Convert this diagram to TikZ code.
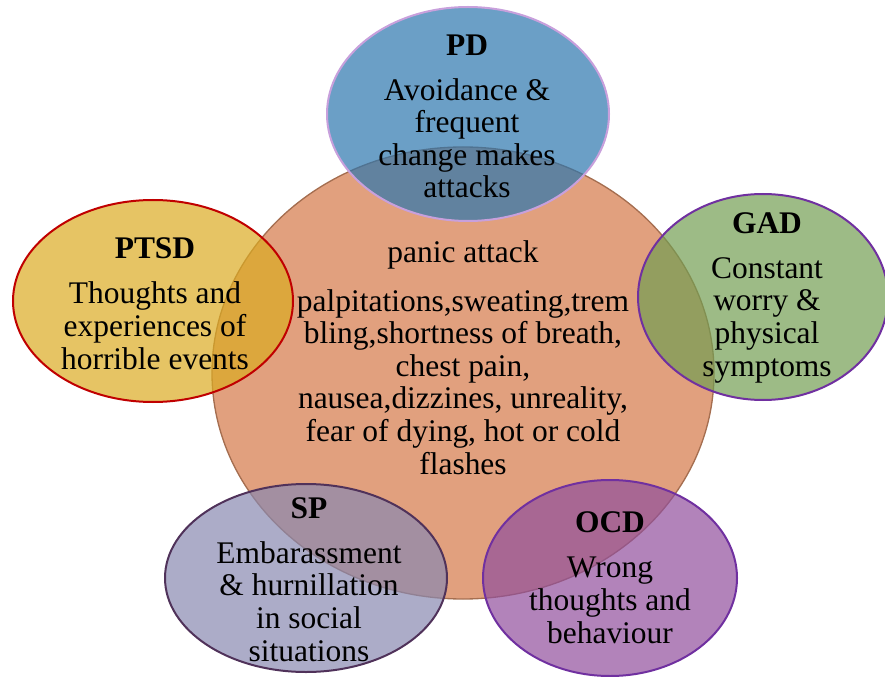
\documentclass[tikz,border=0pt]{standalone}
\usepackage{fontspec}
\setmainfont{Liberation Serif}
\usepackage{tikz}
\usetikzlibrary{shapes.geometric}
\definecolor{panicfill}{RGB}{225,160,126}
\definecolor{panicline}{RGB}{165,110,80}
\definecolor{pdfill}{RGB}{44,118,174}
\definecolor{pdline}{RGB}{200,160,220}
\definecolor{gadfill}{RGB}{115,158,82}
\definecolor{gadline}{RGB}{112,48,160}
\definecolor{ptsdfill}{RGB}{219,171,34}
\definecolor{ptsdline}{RGB}{192,0,0}
\definecolor{spfill}{RGB}{137,137,176}
\definecolor{spline}{RGB}{80,50,90}
\definecolor{ocdfill}{RGB}{145,79,156}
\definecolor{ocdline}{RGB}{112,48,160}

\begin{document}
\begin{tikzpicture}[x=0.75pt,y=-0.75pt,
	bubble/.style={ellipse,draw,line width=1.5pt,inner sep=0pt,fill opacity=0.7},
	blurb/.style={align=center,inner sep=0pt,anchor=base,font=\fontsize{23.6}{24.4}\selectfont}]
	\useasboundingbox (0,0) rectangle (885,677);
	\node[bubble,fill=panicfill,draw=panicline,fill opacity=1,line width=1pt,minimum width=376.5pt,minimum height=339pt] (panic) at (463,373) {};
	\node[bubble,fill=pdfill,draw=pdline,minimum width=211.5pt,minimum height=160.5pt] (pd) at (468,114) {};
	\node[bubble,fill=gadfill,draw=gadline,minimum width=187.5pt,minimum height=154.5pt] (gad) at (763,297) {};
	\node[bubble,fill=ptsdfill,draw=ptsdline,minimum width=210pt,minimum height=151.5pt] (ptsd) at (153,301) {};
	\node[bubble,fill=spfill,draw=spline,minimum width=211.5pt,minimum height=141pt] (sp) at (306,578) {};
	\node[bubble,fill=ocdfill,draw=ocdline,minimum width=190.5pt,minimum height=147pt] (ocd) at (610,578) {};
	\node[blurb] (panictext) at (463,474) {panic attack\\[12.4pt]palpitations,sweating,trem\\bling,shortness of breath,\\chest pain,\\nausea,dizzines, unreality,\\fear of dying, hot or cold\\flashes};
	\node[blurb] (pdtext) at (467,198) {\textbf{PD}\\[9.4pt]Avoidance \&\\frequent\\change makes\\attacks};
	\node[blurb] (gadtext) at (767,376) {\textbf{GAD}\\[9.4pt]Constant\\worry \&\\physical\\symptoms};
	\node[blurb] (ptsdtext) at (155,369) {\textbf{PTSD}\\[9.4pt]Thoughts and\\experiences of\\horrible events};
	\node[blurb] (sptext) at (309,661) {\textbf{SP}\\[9.4pt]Embarassment\\\& hurnillation\\in social\\situations};
	\node[blurb] (ocdtext) at (610,643) {\textbf{OCD}\\[9.4pt]Wrong\\thoughts and\\behaviour};
\end{tikzpicture}
\end{document}
